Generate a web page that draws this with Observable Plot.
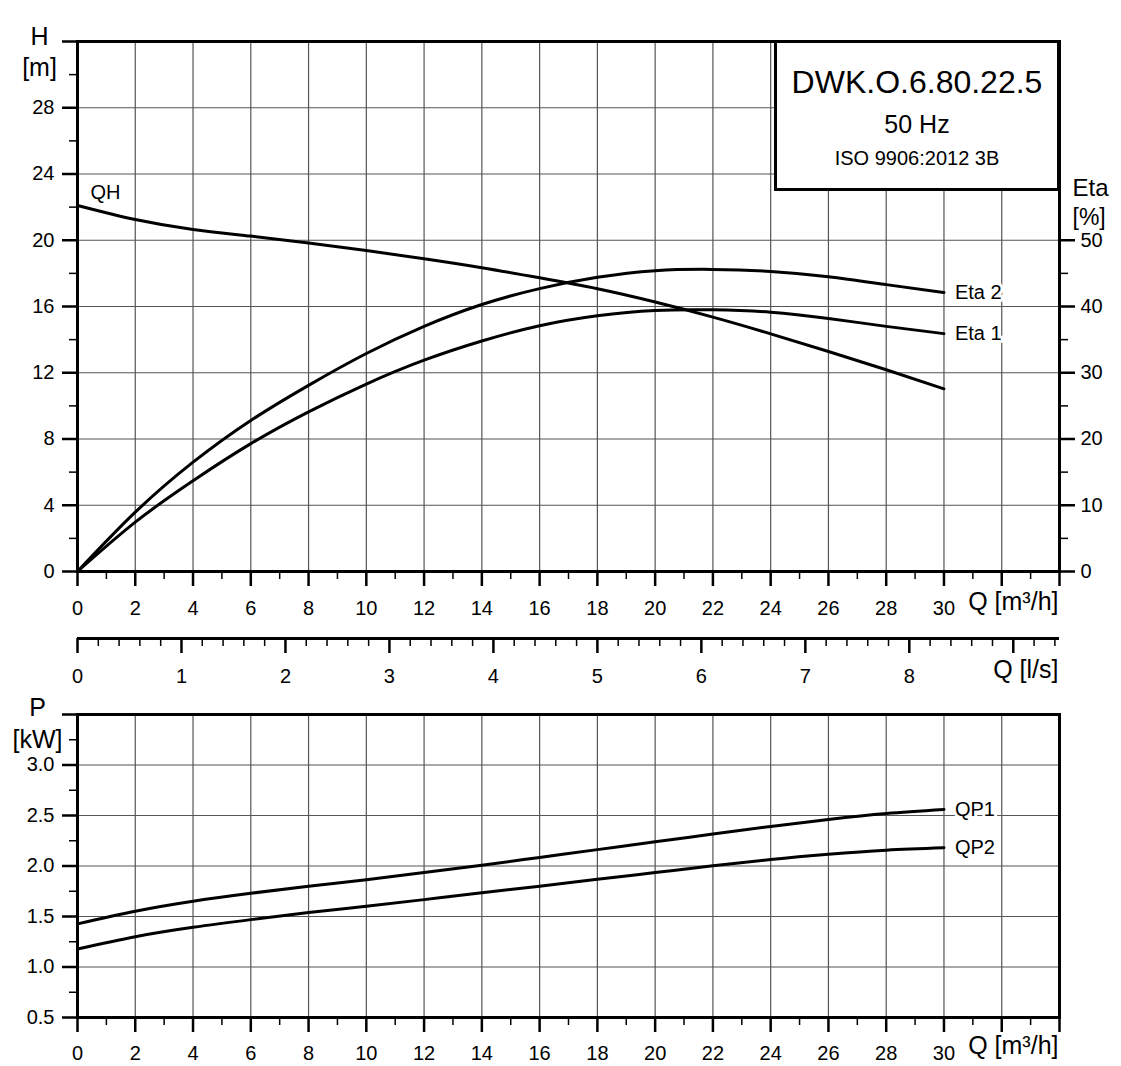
<!DOCTYPE html>
<html>
<head>
<meta charset="utf-8">
<script src="https://cdn.jsdelivr.net/npm/d3@7"></script>
<script src="https://cdn.jsdelivr.net/npm/@observablehq/plot@0.6"></script>
<style>
  body { margin: 0; background: #fff; }
  #wrap { position: relative; width: 1121px; height: 1066px; font-family: "Liberation Sans", Arial, sans-serif; }
  #wrap svg { display: block; }
  #box { position: absolute; left: 774px; top: 40px; width: 286px; height: 151px; box-sizing: border-box;
         border: 3px solid #000; background: #fff; }
  #box div { position: absolute; left: 0; width: 100%; text-align: center; line-height: 1; white-space: nowrap; color: #000; }
</style>
</head>
<body>
<div id="wrap"></div>
<script>
// ---- data ----
const Q     = [0, 2, 4, 6, 8, 10, 12, 14, 16, 18, 20, 22, 24, 26, 28, 30];           // m³/h
const H     = [22.1, 21.25, 20.65, 20.25, 19.83, 19.38, 18.88, 18.34, 17.73, 17.07, 16.27, 15.36, 14.35, 13.28, 12.18, 11.03]; // m
const ETA1  = [0, 7.45, 13.7, 19.3, 24.1, 28.3, 31.9, 34.8, 37.1, 38.6, 39.4, 39.5, 39.15, 38.2, 37.0, 35.9];  // %
const ETA2  = [0, 8.95, 16.5, 22.8, 28.1, 32.9, 37.0, 40.3, 42.7, 44.4, 45.4, 45.6, 45.3, 44.5, 43.3, 42.1];  // %
const QP1   = [1.427, 1.552, 1.651, 1.730, 1.80, 1.865, 1.935, 2.008, 2.085, 2.162, 2.24, 2.316, 2.392, 2.461, 2.52, 2.56]; // kW
const QP2   = [1.179, 1.30, 1.393, 1.469, 1.539, 1.601, 1.667, 1.735, 1.80, 1.868, 1.935, 2.002, 2.065, 2.117, 2.157, 2.18]; // kW

// ---- axes / ticks ----
const Q_DOMAIN   = [0, 34];
const H_DOMAIN   = [0, 32];
const P_DOMAIN   = [0.5, 3.5];
const ETA_PER_M  = 2.5;          // 50 % sits on the 20 m line
const M3H_PER_LS = 3.6;

const qMajor   = [0, 2, 4, 6, 8, 10, 12, 14, 16, 18, 20, 22, 24, 26, 28, 30, 32, 34];
const qMinor   = [1, 3, 5, 7, 9, 11, 13, 15, 17, 19, 21, 23, 25, 27, 29, 31, 33];
const qLabels  = [0, 2, 4, 6, 8, 10, 12, 14, 16, 18, 20, 22, 24, 26, 28, 30];
const hMajor   = [0, 4, 8, 12, 16, 20, 24, 28, 32];
const hMinor   = [2, 6, 10, 14, 18, 22, 26, 30];
const hLabels  = [0, 4, 8, 12, 16, 20, 24, 28];
const etaMajor = [0, 10, 20, 30, 40, 50];
const etaMinor = [5, 15, 25, 35, 45];
const lsMajor  = [0, 1, 2, 3, 4, 5, 6, 7, 8, 9];
const lsLabels = [0, 1, 2, 3, 4, 5, 6, 7, 8];
const lsMinor  = d3.range(0, 48).map(i => i / 5).filter(v => Math.abs(v - Math.round(v)) > 1e-9);
const pMajor   = [0.5, 1.0, 1.5, 2.0, 2.5, 3.0, 3.5];
const pMinor   = [0.75, 1.25, 1.75, 2.25, 2.75, 3.25];
const pLabels  = [0.5, 1.0, 1.5, 2.0, 2.5, 3.0];

const TITLE    = ["DWK.O.6.80.22.5", "50 Hz", "ISO 9906:2012 3B"];

// ---- tables ----
const qh  = Q.map((q, i) => ({q, v: H[i]}));
const e1  = Q.map((q, i) => ({q, v: ETA1[i]}));
const e2  = Q.map((q, i) => ({q, v: ETA2[i]}));
const p1  = Q.map((q, i) => ({q, v: QP1[i]}));
const p2  = Q.map((q, i) => ({q, v: QP2[i]}));

// ---- styling ----
const FONT = "Liberation Sans, Arial, Helvetica, sans-serif";
const GRID = {stroke: "#555", strokeOpacity: 1, strokeWidth: 1.2};
const CURVE = {stroke: "#000", strokeWidth: 3, curve: "natural"};
const baseStyle = {fontFamily: FONT, fontSize: "20px", background: "white", color: "black", overflow: "visible"};
const TICK = 15, MINOR = 8, FS = 20;
const lab = (arr) => (d) => arr.some(v => Math.abs(v - d) < 1e-9) ? d : "";

const wrap = document.getElementById("wrap");

// ===== top panel: H & Eta =====
const topPlot = Plot.plot({
  width: 1121, height: 625,
  marginLeft: 77, marginRight: 62, marginTop: 41, marginBottom: 54,
  style: baseStyle,
  x: {domain: Q_DOMAIN},
  y: {domain: H_DOMAIN},
  marks: [
    Plot.gridX(qMajor, GRID),
    Plot.gridY(hMajor, GRID),
    Plot.line(qh, {x: "q", y: "v", ...CURVE}),
    Plot.line(e1, {x: "q", y: d => d.v / ETA_PER_M, ...CURVE}),
    Plot.line(e2, {x: "q", y: d => d.v / ETA_PER_M, ...CURVE}),
    Plot.frame({stroke: "#000", strokeWidth: 3}),
    Plot.axisX(qMajor, {anchor: "bottom", tickSize: TICK, tickPadding: 14, strokeWidth: 2.5, tickFormat: lab(qLabels), label: null, fontSize: FS}),
    Plot.axisX(qMinor, {anchor: "bottom", tickSize: MINOR, strokeWidth: 1.5, tickFormat: () => "", label: null}),
    Plot.axisY(hMajor, {anchor: "left", tickSize: TICK, tickPadding: 8, strokeWidth: 2.5, tickFormat: lab(hLabels), label: null, fontSize: FS}),
    Plot.axisY(hMinor, {anchor: "left", tickSize: MINOR, strokeWidth: 1.5, tickFormat: () => "", label: null}),
    Plot.axisY(etaMajor.map(e => e / ETA_PER_M), {anchor: "right", tickSize: TICK, tickPadding: 6, strokeWidth: 2.5, tickFormat: d => Math.round(d * ETA_PER_M), label: null, fontSize: FS}),
    Plot.axisY(etaMinor.map(e => e / ETA_PER_M), {anchor: "right", tickSize: MINOR, strokeWidth: 1.5, tickFormat: () => "", label: null}),
    Plot.text([qh[0]], {x: "q", y: "v", text: () => "QH", textAnchor: "start", dx: 13, dy: -13, fontSize: 20}),
    Plot.text([e2[e2.length - 1]], {x: "q", y: d => d.v / ETA_PER_M, text: () => "Eta 2", textAnchor: "start", dx: 11, fontSize: 20, fill: "#000", stroke: "white", strokeWidth: 6, paintOrder: "stroke"}),
    Plot.text([e1[e1.length - 1]], {x: "q", y: d => d.v / ETA_PER_M, text: () => "Eta 1", textAnchor: "start", dx: 11, fontSize: 20, fill: "#000", stroke: "white", strokeWidth: 6, paintOrder: "stroke"}),
    Plot.text(["H"], {frameAnchor: "top-left", dx: -38, dy: -14, textAnchor: "middle", fontSize: 25}),
    Plot.text(["[m]"], {frameAnchor: "top-left", dx: -38, dy: 17, textAnchor: "middle", fontSize: 25}),
    Plot.text(["Eta"], {frameAnchor: "top-right", dx: 13, dy: 137, textAnchor: "start", fontSize: 24}),
    Plot.text(["[%]"], {frameAnchor: "top-right", dx: 13, dy: 167, textAnchor: "start", fontSize: 23}),
    Plot.text(["Q [m³/h]"], {frameAnchor: "bottom-right", dx: -1, dy: 38, textAnchor: "end", fontSize: 25})
  ]
});
wrap.appendChild(topPlot);

// ===== middle: Q in l/s =====
const midPlot = Plot.plot({
  width: 1121, height: 65,
  marginLeft: 77, marginRight: 62, marginTop: 0, marginBottom: 52,
  style: baseStyle,
  x: {domain: Q_DOMAIN.map(v => v / M3H_PER_LS)},
  y: {domain: [0, 1], axis: null},
  marks: [
    Plot.ruleY([0], {stroke: "#000", strokeWidth: 3}),
    Plot.axisX(lsMajor, {anchor: "bottom", tickSize: TICK, tickPadding: 15, strokeWidth: 2.5, tickFormat: lab(lsLabels), label: null, fontSize: FS}),
    Plot.axisX(lsMinor, {anchor: "bottom", tickSize: MINOR, strokeWidth: 1.5, tickFormat: () => "", label: null}),
    Plot.text(["Q [l/s]"], {frameAnchor: "bottom-right", dx: -1, dy: 39, textAnchor: "end", fontSize: 25})
  ]
});
wrap.appendChild(midPlot);

// ===== bottom panel: P =====
const botPlot = Plot.plot({
  width: 1121, height: 376,
  marginLeft: 77, marginRight: 62, marginTop: 24, marginBottom: 49,
  style: baseStyle,
  x: {domain: Q_DOMAIN},
  y: {domain: P_DOMAIN},
  marks: [
    Plot.gridX(qMajor, GRID),
    Plot.gridY(pMajor, GRID),
    Plot.line(p1, {x: "q", y: "v", ...CURVE}),
    Plot.line(p2, {x: "q", y: "v", ...CURVE}),
    Plot.frame({stroke: "#000", strokeWidth: 3}),
    Plot.axisX(qMajor, {anchor: "bottom", tickSize: TICK, tickPadding: 13, strokeWidth: 2.5, tickFormat: lab(qLabels), label: null, fontSize: FS}),
    Plot.axisX(qMinor, {anchor: "bottom", tickSize: MINOR, strokeWidth: 1.5, tickFormat: () => "", label: null}),
    Plot.axisY(pMajor, {anchor: "left", tickSize: TICK, tickPadding: 8, strokeWidth: 2.5, tickFormat: d => pLabels.some(v => Math.abs(v - d) < 1e-9) ? d3.format(".1f")(d) : "", label: null, fontSize: FS}),
    Plot.axisY(pMinor, {anchor: "left", tickSize: MINOR, strokeWidth: 1.5, tickFormat: () => "", label: null}),
    Plot.text([p1[p1.length - 1]], {x: "q", y: "v", text: () => "QP1", textAnchor: "start", dx: 11, fontSize: 20, fill: "#000", stroke: "white", strokeWidth: 6, paintOrder: "stroke"}),
    Plot.text([p2[p2.length - 1]], {x: "q", y: "v", text: () => "QP2", textAnchor: "start", dx: 11, fontSize: 20, fill: "#000", stroke: "white", strokeWidth: 6, paintOrder: "stroke"}),
    Plot.text(["P"], {frameAnchor: "top-left", dx: -40, dy: -16, textAnchor: "middle", fontSize: 25}),
    Plot.text(["[kW]"], {frameAnchor: "top-left", dx: -40, dy: 16, textAnchor: "middle", fontSize: 25}),
    Plot.text(["Q [m³/h]"], {frameAnchor: "bottom-right", dx: -1, dy: 36, textAnchor: "end", fontSize: 25})
  ]
});
wrap.appendChild(botPlot);

// ===== title box =====
const box = document.createElement("div");
box.id = "box";
const tops = [23, 69, 105], sizes = [32, 25, 20];
TITLE.forEach((t, i) => {
  const d = document.createElement("div");
  d.textContent = t;
  d.style.top = tops[i] + "px";
  d.style.fontSize = sizes[i] + "px";
  box.appendChild(d);
});
wrap.appendChild(box);
</script>
</body>
</html>
